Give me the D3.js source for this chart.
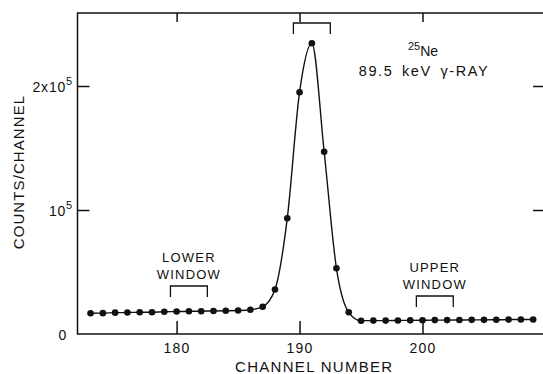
<!DOCTYPE html>
<html>
<head>
<meta charset="utf-8">
<script src="https://cdn.jsdelivr.net/npm/d3@7"></script>
<style>
  body { margin: 0; background: #fff; }
  svg { display: block; font-family: "Liberation Sans", Arial, sans-serif; }
</style>
</head>
<body>
<svg id="chart" width="543" height="374"></svg>
<script>
// channel numbers and counts
const channels = [173, 174, 175, 176, 177, 178, 179, 180, 181, 182, 183, 184, 185, 186, 187, 188,
    189, 190, 191, 192, 193, 194,
    195, 196, 197, 198, 199, 200, 201, 202, 203, 204, 205, 206, 207, 208, 209];
const counts = [16700, 16800, 17200, 17300, 17500, 17600, 18000, 18100, 18300, 18400, 18600, 18700, 18900, 19500, 22000, 35900,
    93300, 195000, 234500, 147000, 53000, 17500,
    10700, 10800, 10800, 10900, 11000, 11100, 11200, 11200, 11300, 11400, 11400, 11500, 11600, 11700, 11700];
const xTicks = [180, 190, 200];
const yTicks = [0, 1e5, 2e5];
const yTickLabels = [["0", ""], ["10", "5"], ["2x10", "5"]];
// gate brackets: [from channel, to channel]
const windows = [
    { name: "peak", range: [190, 192] },
    { name: "lower", range: [180, 182] },
    { name: "upper", range: [200, 202] },
];

const mLeft = 77.5, mRight = 544, mTop = 13, mBottom = 334;

const x = d3.scaleLinear().domain([171.94, 209.88]).range([mLeft, mRight]);
const y = d3.scaleLinear().domain([0, 2e5]).range([mBottom, 86]);

const svg = d3.select("#chart");
const ink = "#111";

// frame
svg.append("rect")
    .attr("x", mLeft).attr("y", mTop)
    .attr("width", mRight - mLeft).attr("height", mBottom - mTop)
    .attr("fill", "none").attr("stroke", ink).attr("stroke-width", 1.5);

// bottom axis, ticks pointing in
const xAxis = svg.append("g")
    .attr("transform", `translate(0,${mBottom})`)
    .call(d3.axisBottom(x).tickValues(xTicks).tickSizeInner(-13).tickSizeOuter(0).tickPadding(9).tickFormat(d3.format("d")));
xAxis.select(".domain").remove();
xAxis.selectAll("line").attr("stroke", ink).attr("stroke-width", 1.5);
xAxis.selectAll("text")
    .attr("fill", ink).attr("font-size", 14).attr("letter-spacing", 1.2)
    .attr("font-family", "Liberation Sans, Arial, sans-serif");

// top axis ticks
const xTop = svg.append("g")
    .attr("transform", `translate(0,${mTop})`)
    .call(d3.axisTop(x).tickValues(xTicks).tickSizeInner(-9).tickSizeOuter(0).tickFormat(""));
xTop.select(".domain").remove();
xTop.selectAll("line").attr("stroke", ink).attr("stroke-width", 1.5);

// left axis
const yAxis = svg.append("g")
    .attr("transform", `translate(${mLeft},0)`)
    .call(d3.axisLeft(y).tickValues(yTicks.slice(1)).tickSizeInner(-12).tickSizeOuter(0).tickFormat(""));
yAxis.select(".domain").remove();
yAxis.selectAll("line").attr("stroke", ink).attr("stroke-width", 1.5);

// right axis
const yRight = svg.append("g")
    .attr("transform", `translate(${mRight},0)`)
    .call(d3.axisRight(y).tickValues(yTicks.slice(1)).tickSizeInner(-11).tickSizeOuter(0).tickFormat(""));
yRight.select(".domain").remove();
yRight.selectAll("line").attr("stroke", ink).attr("stroke-width", 1.5);

// y tick labels with superscript exponent
const yl = svg.append("g").selectAll("text")
    .data(yTicks)
    .join("text")
    .attr("x", (d, i) => i === 0 ? 67 : 73)
    .attr("y", d => y(d) + 6)
    .attr("text-anchor", "end")
    .attr("font-size", 14)
    .attr("letter-spacing", 0.8)
    .attr("fill", ink);
yl.append("tspan").text((d, i) => yTickLabels[i][0]);
yl.append("tspan")
    .attr("dy", -7)
    .attr("font-size", 11)
    .text((d, i) => yTickLabels[i][1]);

// axis titles
svg.append("text")
    .attr("x", (mLeft + 543) / 2 + 4).attr("y", 372)
    .attr("text-anchor", "middle")
    .attr("font-size", 15).attr("letter-spacing", 1.3)
    .attr("fill", ink)
    .text("CHANNEL NUMBER");

svg.append("text")
    .attr("transform", "translate(24,172) rotate(-90)")
    .attr("text-anchor", "middle")
    .attr("font-size", 15).attr("letter-spacing", 1.1)
    .attr("fill", ink)
    .text("COUNTS/CHANNEL");

// spectrum curve
const pts = channels.map((c, i) => [c, counts[i]]);
svg.append("path")
    .datum(pts)
    .attr("fill", "none")
    .attr("stroke", ink)
    .attr("stroke-width", 1.4)
    .attr("d", d3.line().x(d => x(d[0])).y(d => y(d[1])).curve(d3.curveMonotoneX));

svg.append("g").selectAll("circle")
    .data(pts)
    .join("circle")
    .attr("cx", d => x(d[0]))
    .attr("cy", d => y(d[1]))
    .attr("r", 3.3)
    .attr("fill", ink);

// window brackets
const bracketTop = { peak: 23, lower: 286, upper: 296 };
const bracket = d => {
    const x0 = x(d.range[0] - 0.5), x1 = x(d.range[1] + 0.5), t = bracketTop[d.name];
    return `M${x0},${t + 11}V${t}H${x1}V${t + 11}`;
};
svg.append("g").selectAll("path")
    .data(windows)
    .join("path")
    .attr("d", bracket)
    .attr("fill", "none")
    .attr("stroke", ink)
    .attr("stroke-width", 1.3);

// window labels
const label = (txt, cx, by) => svg.append("text")
    .attr("x", cx).attr("y", by)
    .attr("text-anchor", "middle")
    .attr("font-size", 13).attr("letter-spacing", 1.2)
    .attr("fill", ink)
    .text(txt);
label("LOWER", x(181), 262);
label("WINDOW", x(181), 279);
label("UPPER", x(201), 272);
label("WINDOW", x(201), 289);

// isotope annotation
const iso = svg.append("text")
    .attr("x", 423).attr("y", 56)
    .attr("text-anchor", "middle")
    .attr("font-size", 14)
    .attr("fill", ink);
iso.append("tspan").attr("font-size", 11).attr("dy", -6).text("25");
iso.append("tspan").attr("dy", 6).text("Ne");

svg.append("text")
    .attr("x", 424).attr("y", 76)
    .attr("text-anchor", "middle")
    .attr("font-size", 14.5).attr("letter-spacing", 1.6).attr("word-spacing", 3)
    .attr("fill", ink)
    .text("89.5 keV γ-RAY");
</script>
</body>
</html>
